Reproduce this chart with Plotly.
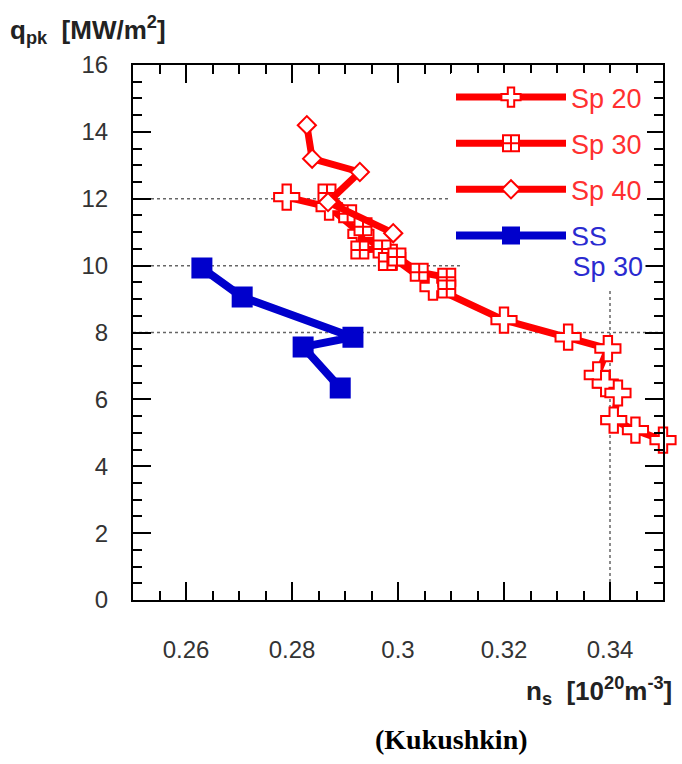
import plotly.graph_objects as go

# ---- data ----
sp20_x = [0.2790, 0.2870, 0.2930, 0.2990, 0.3066, 0.3200, 0.3321, 0.3396, 0.3376, 0.3391, 0.3415, 0.3407, 0.3448, 0.3500]
sp20_y = [12.05, 11.75, 10.95, 10.25, 9.36, 8.37, 7.86, 7.52, 6.73, 6.47, 6.19, 5.38, 5.08, 4.78]

sp30_x = [0.2866, 0.2905, 0.2934, 0.2928, 0.2970, 0.2980, 0.2998, 0.3040, 0.3092, 0.3092]
sp30_y = [12.17, 11.55, 11.16, 10.47, 10.50, 10.12, 10.26, 9.80, 9.65, 9.30]

sp40_x = [0.2828, 0.2838, 0.2928, 0.2868, 0.2991]
sp40_y = [14.20, 13.20, 12.80, 11.90, 10.97]

ss_x = [0.2630, 0.2706, 0.2915, 0.2821, 0.2891]
ss_y = [9.93, 9.06, 7.86, 7.57, 6.34]

grid_y = [8, 10, 12]
grid_x = [0.34]

x_ticks = [0.26, 0.28, 0.30, 0.32, 0.34]
x_tick_text = ["0.26", "0.28", "0.3", "0.32", "0.34"]
y_ticks = [0, 2, 4, 6, 8, 10, 12, 14, 16]

RED = "#ff0000"
BLUE = "#0000cc"
LEG_RED = "#ff3030"
LEG_BLUE = "#2a2ad0"

fig = go.Figure()

def add(xs, ys, name, color, symbol, fill, size, lw, group):
    fig.add_trace(go.Scatter(
        x=xs, y=ys, mode="lines+markers", name=name, legendgroup=group,
        cliponaxis=False,
        line=dict(color=color, width=lw),
        marker=dict(symbol=symbol, size=size, color=fill,
                    line=dict(color=color, width=2)),
    ))

add(sp20_x, sp20_y, f"<span style='color:{LEG_RED}'>Sp 20</span>", RED, "cross", "white", 21, 7, "a")
add(sp30_x, sp30_y, f"<span style='color:{LEG_RED}'>Sp 30</span>", RED, "square-cross", "white", 17, 7, "b")
add(sp40_x, sp40_y, f"<span style='color:{LEG_RED}'>Sp 40</span>", RED, "diamond", "white", 14, 7, "c")
add(ss_x, ss_y, f"<span style='color:{LEG_BLUE}'>SS</span>", BLUE, "square", BLUE, 19, 8, "d")

shapes = []
for gy in grid_y:
    shapes.append(dict(type="line", xref="paper", yref="y", x0=0, x1=1, y0=gy, y1=gy,
                       line=dict(color="#666666", width=1.5, dash="dot"), layer="below"))
for gx in grid_x:
    shapes.append(dict(type="line", xref="x", yref="paper", x0=gx, x1=gx, y0=0, y1=1,
                       line=dict(color="#666666", width=1.5, dash="dot"), layer="below"))

axis_font = dict(family="Liberation Sans, Arial, sans-serif", size=24, color="#333333")

fig.update_layout(
    width=682, height=764,
    margin=dict(l=133, r=19, t=65, b=164),
    plot_bgcolor="white", paper_bgcolor="white",
    shapes=shapes,
    showlegend=True,
    legend=dict(x=0.6, y=0.985, xanchor="left", yanchor="top",
                bgcolor="white", borderwidth=0,
                font=dict(family="Liberation Sans, Arial, sans-serif", size=27),
                itemwidth=110, tracegroupgap=8, valign="top"),
    xaxis=dict(range=[0.25, 0.35], tickvals=x_ticks, ticktext=x_tick_text,
               ticks="inside", ticklen=18, tickwidth=2, tickcolor="black",
               showline=True, linecolor="black", linewidth=2, mirror="allticks",
               showgrid=False, zeroline=False, tickfont=axis_font,
               ticklabelstandoff=27,
               minor=dict(dtick=0.005, tick0=0.25, ticks="inside", ticklen=9,
                          tickwidth=2, tickcolor="black", showgrid=False)),
    yaxis=dict(range=[0, 16], tickvals=y_ticks,
               ticks="inside", ticklen=18, tickwidth=2, tickcolor="black",
               showline=True, linecolor="black", linewidth=2, mirror="allticks",
               showgrid=False, zeroline=False, tickfont=axis_font,
               ticklabelstandoff=18,
               minor=dict(dtick=0.5, tick0=0, ticks="inside", ticklen=9,
                          tickwidth=2, tickcolor="black", showgrid=False)),
    annotations=[
        dict(text=f"<span style='color:{LEG_BLUE}'>Sp 30</span>", xref="paper", yref="paper",
             x=0.617, y=0.622, xanchor="left", yanchor="middle", showarrow=False,
             bgcolor="white", borderpad=2, width=180, height=38, align="right",
             font=dict(family="Liberation Sans, Arial, sans-serif", size=27)),
        dict(text="<b>q<sub>pk</sub>  [MW/m<sup>2</sup>]</b>", xref="paper", yref="paper",
             x=-0.235, y=1.065, xanchor="left", yanchor="middle", showarrow=False,
             font=dict(family="Liberation Sans, Arial, sans-serif", size=26, color="#222222")),
        dict(text="<b>n<sub>s</sub>  [10<sup>20</sup>m<sup>-3</sup>]</b>", xref="paper", yref="paper",
             x=1.02, y=-0.17, xanchor="right", yanchor="middle", showarrow=False,
             font=dict(family="Liberation Sans, Arial, sans-serif", size=26, color="#222222")),
        dict(text="<b>(Kukushkin)</b>", xref="paper", yref="paper",
             x=0.6, y=-0.26, xanchor="center", yanchor="middle", showarrow=False,
             font=dict(family="Liberation Serif, Times New Roman, serif", size=28, color="black")),
    ],
)

fig.write_html("out.html")
